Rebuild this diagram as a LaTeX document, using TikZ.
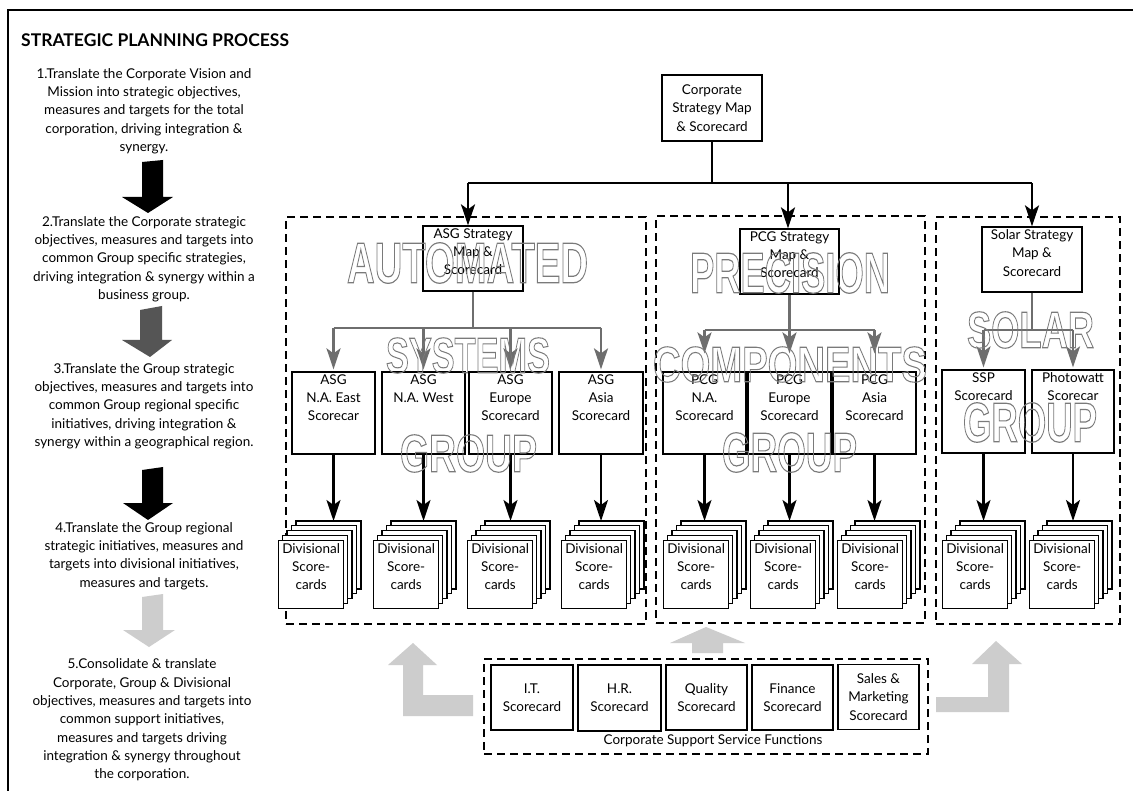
\documentclass[tikz,border=0pt]{standalone}
\usepackage{fontspec}
\setmainfont{Lato}
\newfontfamily\outlinefont{Liberation Sans}
\usepackage{graphicx}
\usetikzlibrary{arrows.meta}

\definecolor{linkgray}{HTML}{6E6E6E}
\definecolor{midgray}{HTML}{555555}
\definecolor{palegray}{HTML}{CDCDCD}
\definecolor{outlinegray}{HTML}{7A7A7A}

\newcommand\bodysize{\fontsize{13.5pt}{18.3pt}\selectfont}
% stroked (unfilled) lettering, stretched to a given width and height
\newcommand\hollow[3]{\resizebox{#1pt}{#2pt}{\outlinefont\bfseries\fontsize{52pt}{52pt}\selectfont
  \textcolor{outlinegray}{\special{pdf:literal direct 1 Tr 1.1 w}#3\special{pdf:literal direct 0 Tr}}}}

\tikzset{
  every node/.style={font=\bodysize},
  box/.style={draw, line width=1.3pt, fill=white, inner sep=0pt},
  boxtext/.style={align=center, inner sep=0pt, anchor=north},
  grp/.style={draw, line width=2.2pt, dash pattern=on 8pt off 5pt, inner sep=0pt},
  card/.style={draw, line width=1.1pt, fill=white},
  link/.style={line width=2.2pt},
  blk/.style={line width=2.2pt, -{Stealth[length=21pt,width=14pt,inset=5pt]}},
  gry/.style={blk, draw=linkgray, color=linkgray},
  steptext/.style={align=center, inner sep=0pt},
  word/.style={inner sep=0pt},
}

% a box with top-aligned text: name, centre x, centre y, width, height, text
\newcommand\topbox[6]{%
  \node[box, minimum width=#4pt, minimum height=#5pt] (#1) at (#2,#3) {};
  \node[boxtext] (#1-t) at ([yshift=-3pt]#1.north) {#6};}

% a stack of five divisional scorecards, front card at (x0,540)
\newcommand\divstack[2]{%
  \foreach \k in {4,3,2,1}{\draw[card] (#2+4.5*\k,540-4.75*\k) rectangle ++(65,68);}
  \node[box, minimum width=65pt, minimum height=68pt, anchor=north west] (#1) at (#2,540) {};
  \node[boxtext] (#1-t) at ([yshift=-3pt]#1.north) {Divisional\\Score-\\cards};
  \coordinate (#1-top) at (#2+18,521);}

\begin{document}
\begin{tikzpicture}[x=1pt,y=-1pt]
\useasboundingbox (0,0) rectangle (1133,791);
\fill[white] (0,0) rectangle (1133,791);

% outer frame (runs past the page on the right and bottom)
\draw[line width=2pt] (8,800) -- (8,10) -- (1140,10);

% left column: the planning steps
\node[anchor=west, inner sep=0pt, font=\fontsize{17.5pt}{19pt}\selectfont\bfseries] (title) at (21,40) {STRATEGIC PLANNING PROCESS};

\node[steptext] (s1) at (144,111) {1.Translate the Corporate Vision and\\Mission into strategic objectives,\\measures and targets for the total\\corporation, driving integration \&\\synergy.};
\node[steptext] (s2) at (144,259) {2.Translate the Corporate strategic\\objectives, measures and targets into\\common Group specific strategies,\\driving integration \& synergy within a\\business group.};
\node[steptext] (s3) at (144,406) {3.Translate the Group strategic\\objectives, measures and targets into\\common Group regional specific\\initiatives, driving integration \&\\synergy within a geographical region.};
\node[steptext] (s4) at (144,556) {4.Translate the Group regional\\strategic initiatives, measures and\\targets into divisional initiatives,\\measures and targets.};
\node[steptext] (s5) at (142,720) {5.Consolidate \& translate\\Corporate, Group \& Divisional\\objectives, measures and targets into\\common support initiatives,\\measures and targets driving\\integration \& synergy throughout\\the corporation.};

\fill[black] (142,162) -- (163,160) -- (163,197) -- (173,197) -- (148,213) -- (122,197) -- (142,197) -- cycle;
\fill[midgray] (140,310) -- (162,306) -- (162,340) -- (172,340) -- (150,357) -- (122,340) -- (140,340) -- cycle;
\fill[black] (142,470) -- (163,467) -- (163,503) -- (173,503) -- (148,520) -- (123,503) -- (142,503) -- cycle;
\fill[palegray] (142,597) -- (163,594) -- (163,630) -- (175,630) -- (149,647) -- (123,630) -- (142,630) -- cycle;

% group frames
\node[grp, minimum width=360pt, minimum height=407pt, anchor=north west] (asgG) at (285,216) {};
\node[grp, minimum width=269pt, minimum height=407pt, anchor=north west] (pcgG) at (655,215) {};
\node[grp, minimum width=184pt, minimum height=407pt, anchor=north west] (solG) at (935,216) {};
\node[grp, minimum width=444pt, minimum height=95pt, anchor=north west] (supG) at (483,658) {};

% corporate level
\node[box, minimum width=100pt, minimum height=66pt, align=center] (corp) at (712,108) {Corporate\\Strategy Map\\\& Scorecard};

% group strategy maps
\topbox{asgS}{473}{258.5}{100}{65}{ASG Strategy\\Map \&\\Scorecard}
\topbox{pcgS}{789.5}{261.5}{99}{65}{PCG Strategy\\Map \&\\Scorecard}
\topbox{solS}{1032}{259.5}{100}{65}{Solar Strategy\\Map \&\\Scorecard}

% regional scorecards
\topbox{asgA}{333.5}{413}{83}{82}{ASG\\N.A. East\\Scorecar}
\topbox{asgB}{423.5}{413}{83}{82}{ASG\\N.A. West}
\topbox{asgC}{510.5}{413}{83}{82}{ASG\\Europe\\Scorecard}
\topbox{asgD}{601}{413}{84}{82}{ASG\\Asia\\Scorecard}
\topbox{pcgA}{704.5}{413}{83}{82}{PCG\\N.A.\\Scorecard}
\topbox{pcgB}{789.5}{413}{83}{82}{PCG\\Europe\\Scorecard}
\topbox{pcgC}{874.5}{413}{83}{82}{PCG\\Asia\\Scorecard}
\topbox{ssp}{983.5}{411.5}{83}{83}{SSP\\Scorecard}
\topbox{photo}{1073}{411.5}{82}{83}{Photowatt\\Scorecar}

% divisional scorecards
\divstack{dA}{278}
\divstack{dB}{373}
\divstack{dC}{467}
\divstack{dD}{561}
\divstack{dE}{663}
\divstack{dF}{750}
\divstack{dG}{837}
\divstack{dH}{942}
\divstack{dI}{1029}

% corporate to groups
\coordinate (barL) at (468,183);
\coordinate (barP) at (788,183);
\coordinate (barR) at (1032,183);
\draw[link] (corp.south) -- (corp.south |- barL);
\draw[link] (barL) -- (barR);
\draw[blk] (barL) -- (barL |- asgS.north);
\draw[blk] (barP) -- (barP |- pcgS.north);
\draw[blk] (barR) -- (barR |- solS.north);

% groups to regions
\coordinate (asgBar) at (0,328);
\draw[link, linkgray] (asgS.south) -- (asgS.south |- asgBar);
\draw[link, linkgray] (asgA.north |- asgBar) -- (asgD.north |- asgBar);
\draw[gry] (asgA.north |- asgBar) -- ([yshift=2pt]asgA.north);
\draw[gry] (asgB.north |- asgBar) -- ([yshift=2pt]asgB.north);
\draw[gry] (asgC.north |- asgBar) -- ([yshift=2pt]asgC.north);
\draw[gry] (asgD.north |- asgBar) -- ([yshift=2pt]asgD.north);

\coordinate (pcgBar) at (0,330);
\draw[link, linkgray] (pcgS.south) -- (pcgS.south |- pcgBar);
\draw[link, linkgray] (pcgA.north |- pcgBar) -- (pcgC.north |- pcgBar);
\draw[gry] (pcgA.north |- pcgBar) -- ([yshift=18pt]pcgA.north);
\draw[gry] (pcgB.north |- pcgBar) -- ([yshift=18pt]pcgB.north);
\draw[gry] (pcgC.north |- pcgBar) -- ([yshift=18pt]pcgC.north);

\coordinate (solBar) at (0,330);
\draw[link, linkgray] (solS.south) -- (solS.south |- solBar);
\draw[link, linkgray] (ssp.north |- solBar) -- (photo.north |- solBar);
\draw[gry] (ssp.north |- solBar) -- ([yshift=2pt]ssp.north);
\draw[gry] (photo.north |- solBar) -- ([yshift=2pt]photo.north);

% regions to divisions
\foreach \r/\d in {asgA/dA, asgB/dB, asgC/dC, asgD/dD, pcgA/dE, pcgB/dF, pcgC/dG, ssp/dH, photo/dI}
  \draw[blk] (\r.south) -- (\r.south |- \d-top);

% corporate support functions
\node[box, minimum width=82pt, minimum height=65pt, align=center] (it) at (532,697.5) {I.T.\\Scorecard};
\node[box, minimum width=83pt, minimum height=66pt, align=center] (hr) at (619.5,698) {H.R.\\Scorecard};
\node[box, minimum width=81pt, minimum height=65pt, align=center] (qual) at (706.5,697.5) {Quality\\Scorecard};
\node[box, minimum width=81pt, minimum height=65pt, align=center] (fin) at (792.5,697.5) {Finance\\Scorecard};
\node[box, minimum width=81pt, minimum height=65pt, align=center] (sales) at (878.5,697) {Sales \&\\Marketing\\Scorecard};
\node[inner sep=0pt] (supL) at (713,741) {Corporate Support Service Functions};

% support feeding back into the groups
\fill[palegray] (473,695) -- (423,695) -- (423,665) -- (437,665) -- (413,643) -- (388,665) -- (403,665) -- (403,716) -- (473,716) -- cycle;
\fill[palegray] (692,653) -- (692,643) -- (670,643) -- (706,627) -- (745,643) -- (723,643) -- (723,653) -- cycle;
\fill[palegray] (936,697) -- (988,697) -- (988,664) -- (972,664) -- (996,641) -- (1022,664) -- (1009,664) -- (1009,712) -- (936,712) -- cycle;

% hollow group names
\node[word] (wAuto) at (467.5,263) {\hollow{241}{40}{AUTOMATED}};
\node[word] (wSys) at (468,355.5) {\hollow{164}{35}{SYSTEMS}};
\node[word] (wAsgGrp) at (468.5,453.5) {\hollow{137}{37}{GROUP}};
\node[word] (wPrec) at (790,273) {\hollow{200}{40}{PRECISION}};
\node[word] (wComp) at (790,364.5) {\hollow{274}{35}{COMPONENTS}};
\node[word] (wPcgGrp) at (789.5,452.5) {\hollow{135}{39}{GROUP}};
\node[word] (wSolar) at (1030.5,330) {\hollow{127}{36}{SOLAR}};
\node[word] (wSolGrp) at (1030,422.5) {\hollow{134}{39}{GROUP}};
\end{tikzpicture}
\end{document}
